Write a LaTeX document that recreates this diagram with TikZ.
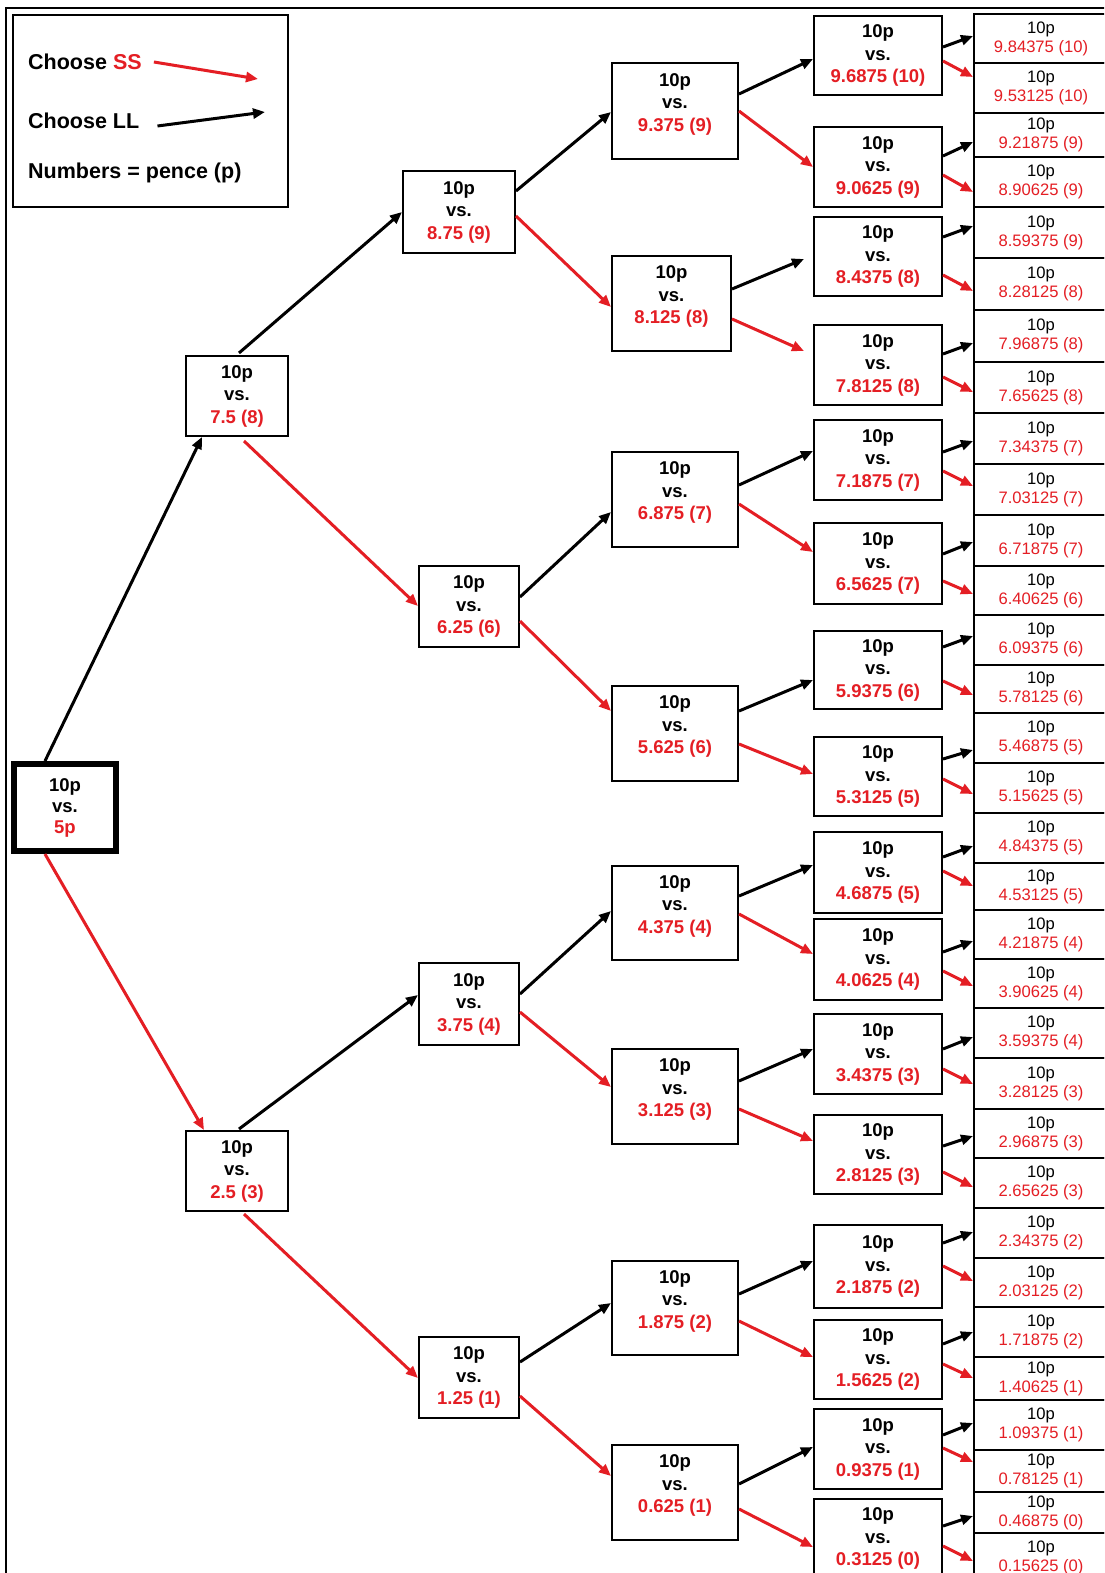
\documentclass[tikz,border=0pt]{standalone}
\usepackage{fontspec}
\setmainfont{Liberation Sans}
\usetikzlibrary{calc,arrows.meta}
\definecolor{ssred}{RGB}{228,30,36}
\tikzset{
 x=1pt, y=-1pt,
 boxframe/.style={draw=black, line width=2pt, fill=white, inner sep=0pt},
 boxtext/.style={inner sep=0pt, align=center, font=\fontsize{18.5}{22.5}\selectfont\bfseries},
 leafbox/.style={draw=black, line width=2pt, fill=white, inner sep=0pt, align=center, minimum width=134pt, font=\fontsize{16.6}{19}\selectfont},
 ll/.style={draw=black, line width=3pt, -{Triangle[length=12pt,width=10pt]}},
 ss/.style={draw=ssred, line width=3pt, -{Triangle[length=12pt,width=10pt]}},
 legtext/.style={anchor=west, inner sep=0pt, font=\fontsize{21.5}{24}\selectfont\bfseries},
}
% box: [text shift]{name}{x1}{y1}{x2}{y2}
\newcommand\bx[6][0]{%
 \node[boxframe, minimum width={#5pt-#3pt}, minimum height={#6pt-#4pt}] (#2) at ({(#3+#5)/2},{(#4+#6)/2}) {};%
 \node[boxtext] (#2t) at ($(#2.center)+(0,#1)$) {10p\\vs.\\\textcolor{ssred}{\csname val#2\endcsname}};%
}
\newcommand\leaf[4]{%
 \node[leafbox, minimum height={#3pt-#2pt}] (#1) at (1041,{(#2+#3)/2}) {10p\\\textcolor{ssred}{#4}};%
}
\newcommand\conn[6]{\draw[#1] ($(#2.north east)+(0,#3)$) -- ($(#4.north west)+(#5,#6)$);}
\begin{document}
\begin{tikzpicture}
\useasboundingbox (0,0) rectangle (1104,1573);
\clip (0,0) rectangle (1104,1573);
\fill[white] (0,0) rectangle (1104,1573);
% outer frame
\draw[line width=2.5pt] (6,1600) -- (6,8) -- (1130,8);

% legend
\node[draw=black, line width=2pt, minimum width=275pt, minimum height=192pt, inner sep=0pt] (legend) at (150.5,111) {};
\node[legtext] (ssT) at (28,62) {Choose \textcolor{ssred}{SS}};
\node[legtext] (llT) at (28,121) {Choose LL};
\node[legtext] (numT) at (28,173) {Numbers = pence (p)};
\coordinate (ssE) at (258,79);
\coordinate (llE) at (265,112);
\draw[ss] ($(ssT.east)+(12,0)$) -- (ssE);
\draw[ll] ($(llT.east)+(18,5)$) -- (llE);

% root
\node[draw=black, line width=6pt, fill=white, inner sep=0pt, minimum width=102pt, minimum height=87pt, align=center, font=\fontsize{18.5}{21}\selectfont\bfseries] (root) at (65,807.5) {10p\\vs.\\\textcolor{ssred}{5p}};

% values
\expandafter\def\csname vala1\endcsname{7.5 (8)}
\expandafter\def\csname vala2\endcsname{2.5 (3)}
\expandafter\def\csname valb1\endcsname{8.75 (9)}
\expandafter\def\csname valb2\endcsname{6.25 (6)}
\expandafter\def\csname valb3\endcsname{3.75 (4)}
\expandafter\def\csname valb4\endcsname{1.25 (1)}
\expandafter\def\csname valc1\endcsname{9.375 (9)}
\expandafter\def\csname valc2\endcsname{8.125 (8)}
\expandafter\def\csname valc3\endcsname{6.875 (7)}
\expandafter\def\csname valc4\endcsname{5.625 (6)}
\expandafter\def\csname valc5\endcsname{4.375 (4)}
\expandafter\def\csname valc6\endcsname{3.125 (3)}
\expandafter\def\csname valc7\endcsname{1.875 (2)}
\expandafter\def\csname valc8\endcsname{0.625 (1)}
\expandafter\def\csname vald1\endcsname{9.6875 (10)}
\expandafter\def\csname vald2\endcsname{9.0625 (9)}
\expandafter\def\csname vald3\endcsname{8.4375 (8)}
\expandafter\def\csname vald4\endcsname{7.8125 (8)}
\expandafter\def\csname vald5\endcsname{7.1875 (7)}
\expandafter\def\csname vald6\endcsname{6.5625 (7)}
\expandafter\def\csname vald7\endcsname{5.9375 (6)}
\expandafter\def\csname vald8\endcsname{5.3125 (5)}
\expandafter\def\csname vald9\endcsname{4.6875 (5)}
\expandafter\def\csname vald10\endcsname{4.0625 (4)}
\expandafter\def\csname vald11\endcsname{3.4375 (3)}
\expandafter\def\csname vald12\endcsname{2.8125 (3)}
\expandafter\def\csname vald13\endcsname{2.1875 (2)}
\expandafter\def\csname vald14\endcsname{1.5625 (2)}
\expandafter\def\csname vald15\endcsname{0.9375 (1)}
\expandafter\def\csname vald16\endcsname{0.3125 (0)}

% level 1
\bx{a1}{186}{356}{288}{436}
\bx{a2}{186}{1131}{288}{1211}
% level 2
\bx{b1}{403}{171}{515}{253}
\bx{b2}{419}{566}{519}{647}
\bx{b3}{419}{963}{519}{1045}
\bx{b4}{419}{1337}{519}{1418}
% level 3
\bx[-7]{c1}{612}{63}{738}{159}
\bx[-7]{c2}{612}{256}{731}{351}
\bx[-7]{c3}{612}{452}{738}{547}
\bx[-7]{c4}{612}{686}{738}{781}
\bx[-7]{c5}{612}{866}{738}{960}
\bx[-7]{c6}{612}{1049}{738}{1144}
\bx[-7]{c7}{612}{1261}{738}{1355}
\bx[-7]{c8}{612}{1445}{738}{1540}
% level 4
\bx{d1}{814}{16}{942}{95}
\bx{d2}{814}{127}{942}{207}
\bx{d3}{814}{217}{942}{296}
\bx{d4}{814}{325}{942}{405}
\bx{d5}{814}{420}{942}{500}
\bx{d6}{814}{523}{942}{604}
\bx{d7}{814}{631}{942}{709}
\bx{d8}{814}{737}{942}{816}
\bx{d9}{814}{832}{942}{913}
\bx{d10}{814}{919}{942}{1000}
\bx{d11}{814}{1014}{942}{1094}
\bx{d12}{814}{1115}{942}{1194}
\bx{d13}{814}{1225}{942}{1308}
\bx{d14}{814}{1320}{942}{1399}
\bx{d15}{814}{1409}{942}{1489}
\bx{d16}{814}{1499}{942}{1578}

% leaves
\leaf{e1}{14}{63}{9.84375 (10)}
\leaf{e2}{63}{113}{9.53125 (10)}
\leaf{e3}{113}{157}{9.21875 (9)}
\leaf{e4}{157}{207}{8.90625 (9)}
\leaf{e5}{207}{258}{8.59375 (9)}
\leaf{e6}{258}{310}{8.28125 (8)}
\leaf{e7}{310}{362}{7.96875 (8)}
\leaf{e8}{362}{413}{7.65625 (8)}
\leaf{e9}{413}{464}{7.34375 (7)}
\leaf{e10}{464}{515}{7.03125 (7)}
\leaf{e11}{515}{566}{6.71875 (7)}
\leaf{e12}{566}{615}{6.40625 (6)}
\leaf{e13}{615}{665}{6.09375 (6)}
\leaf{e14}{665}{713}{5.78125 (6)}
\leaf{e15}{713}{763}{5.46875 (5)}
\leaf{e16}{763}{813}{5.15625 (5)}
\leaf{e17}{813}{863}{4.84375 (5)}
\leaf{e18}{863}{910}{4.53125 (5)}
\leaf{e19}{910}{959}{4.21875 (4)}
\leaf{e20}{959}{1008}{3.90625 (4)}
\leaf{e21}{1008}{1058}{3.59375 (4)}
\leaf{e22}{1058}{1109}{3.28125 (3)}
\leaf{e23}{1109}{1158}{2.96875 (3)}
\leaf{e24}{1158}{1208}{2.65625 (3)}
\leaf{e25}{1208}{1258}{2.34375 (2)}
\leaf{e26}{1258}{1307}{2.03125 (2)}
\leaf{e27}{1307}{1357}{1.71875 (2)}
\leaf{e28}{1357}{1400}{1.40625 (1)}
\leaf{e29}{1400}{1450}{1.09375 (1)}
\leaf{e30}{1450}{1492}{0.78125 (1)}
\leaf{e31}{1492}{1533}{0.46875 (0)}
\leaf{e32}{1533}{1582}{0.15625 (0)}

% root -> level 1
\draw[ll] ($(root.north west)+(34,0)$) -- ($(a1.south west)+(17,0)$);
\draw[ss] ($(root.south west)+(34,0)$) -- ($(a2.north west)+(19,0)$);
% level 1 -> level 2
\draw[ll] ($(a1.north west)+(54,-2)$) -- ($(b1.north west)+(0,42)$);
\draw[ss] ($(a1.south west)+(59,4)$) -- ($(b2.north west)+(0,41)$);
\draw[ll] ($(a2.north west)+(54,-1)$) -- ($(b3.north west)+(0,33)$);
\draw[ss] ($(a2.south west)+(59,2)$) -- ($(b4.north west)+(0,42)$);
% level 2 -> level 3
\conn{ll}{b1}{21}{c1}{0}{50}
\conn{ss}{b1}{46}{c2}{0}{52}
\conn{ll}{b2}{32}{c3}{0}{61}
\conn{ss}{b2}{56}{c4}{0}{26}
\conn{ll}{b3}{32}{c5}{0}{46}
\conn{ss}{b3}{50}{c6}{0}{39}
\conn{ll}{b4}{26}{c7}{0}{43}
\conn{ss}{b4}{60}{c8}{0}{32}
% level 3 -> level 4
\conn{ll}{c1}{32}{d1}{0}{44}
\conn{ss}{c1}{49}{d2}{0}{41}
\conn{ll}{c2}{34}{d3}{-9}{43}
\conn{ss}{c2}{64}{d4}{-9}{27}
\conn{ll}{c3}{34}{d5}{0}{32}
\conn{ss}{c3}{53}{d6}{0}{30}
\conn{ll}{c4}{26}{d7}{0}{50}
\conn{ss}{c4}{59}{d8}{0}{38}
\conn{ll}{c5}{31}{d9}{0}{34}
\conn{ss}{c5}{49}{d10}{0}{36}
\conn{ll}{c6}{33}{d11}{0}{36}
\conn{ss}{c6}{61}{d12}{0}{27}
\conn{ll}{c7}{34}{d13}{0}{37}
\conn{ss}{c7}{61}{d14}{0}{38}
\conn{ll}{c8}{40}{d15}{0}{39}
\conn{ss}{c8}{65}{d16}{0}{49}
% level 4 -> leaves
\conn{ll}{d1}{32}{e1}{0}{23}
\conn{ss}{d1}{46}{e2}{0}{15}
\conn{ll}{d2}{30}{e3}{0}{30}
\conn{ss}{d2}{49}{e4}{0}{36}
\conn{ll}{d3}{21}{e5}{0}{20}
\conn{ss}{d3}{59}{e6}{0}{34}
\conn{ll}{d4}{30}{e7}{0}{34}
\conn{ss}{d4}{53}{e8}{0}{31}
\conn{ll}{d5}{33}{e9}{0}{29}
\conn{ss}{d5}{52}{e10}{0}{23}
\conn{ll}{d6}{32}{e11}{0}{28}
\conn{ss}{d6}{59}{e12}{0}{29}
\conn{ll}{d7}{17}{e13}{0}{22}
\conn{ss}{d7}{51}{e14}{0}{31}
\conn{ll}{d8}{23}{e15}{0}{38}
\conn{ss}{d8}{43}{e16}{0}{32}
\conn{ll}{d9}{26}{e17}{0}{34}
\conn{ss}{d9}{40}{e18}{0}{24}
\conn{ll}{d10}{34}{e19}{0}{32}
\conn{ss}{d10}{53}{e20}{0}{28}
\conn{ll}{d11}{36}{e21}{0}{30}
\conn{ss}{d11}{56}{e22}{0}{27}
\conn{ll}{d12}{32}{e23}{0}{28}
\conn{ss}{d12}{58}{e24}{0}{30}
\conn{ll}{d13}{19}{e25}{0}{25}
\conn{ss}{d13}{42}{e26}{0}{24}
\conn{ll}{d14}{25}{e27}{0}{26}
\conn{ss}{d14}{45}{e28}{0}{22}
\conn{ll}{d15}{27}{e29}{0}{24}
\conn{ss}{d15}{40}{e30}{0}{13}
\conn{ll}{d16}{28}{e31}{0}{25}
\conn{ss}{d16}{48}{e32}{0}{29}
\end{tikzpicture}
\end{document}
